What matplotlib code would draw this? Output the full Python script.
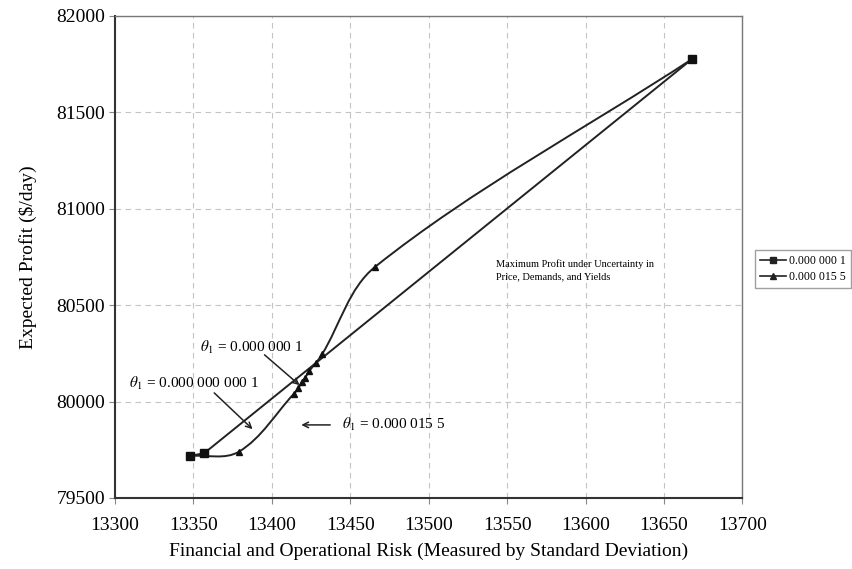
import numpy as np
import matplotlib
matplotlib.use("Agg")
import matplotlib.pyplot as plt
from matplotlib.path import Path
from matplotlib.patches import PathPatch
from matplotlib.lines import Line2D

plt.rcParams['font.family'] = ['Liberation Serif', 'DejaVu Serif']
plt.rcParams['mathtext.fontset'] = 'stix'

# data
sq_risk = [13348, 13357, 13668]
sq_profit = [79718, 79733, 81777]

tri_risk = [13348, 13379, 13414, 13417, 13419, 13421, 13424, 13428, 13432, 13466, 13668]
tri_profit = [79718, 79740, 80040, 80070, 80100, 80120, 80160, 80200, 80245, 80700, 81777]

labels = ['0.000 000 1', '0.000 015 5']
xticks = np.arange(13300, 13701, 50)
yticks = np.arange(79500, 82001, 500)

fig = plt.figure(figsize=(8.53, 5.69), dpi=100)
ax = fig.add_axes([0.1348, 0.1248, 0.7355, 0.8471])
ax.set_xlim(13300, 13700)
ax.set_ylim(79500, 82000)

# pixel scale so the smoothing works in screen space
sx = 627 / 400.0
sy = 482 / 2500.0


def smooth_path(xs, ys):
    pts = np.column_stack([np.array(xs) * sx, np.array(ys) * sy])
    n = len(pts)
    verts = [pts[0]]
    codes = [Path.MOVETO]
    for i in range(n - 1):
        p0 = pts[max(i - 1, 0)]
        p1 = pts[i]
        p2 = pts[i + 1]
        p3 = pts[min(i + 2, n - 1)]
        d = np.hypot(*(p2 - p1))
        t1 = p2 - p0
        t2 = p3 - p1
        t1 = t1 / np.hypot(*t1)
        t2 = t2 / np.hypot(*t2)
        c1 = p1 + t1 * d / 3.0
        c2 = p2 - t2 * d / 3.0
        verts += [c1, c2, p2]
        codes += [Path.CURVE4] * 3
    verts = np.array(verts)
    verts[:, 0] /= sx
    verts[:, 1] /= sy
    return Path(verts, codes)


ax.grid(True, linestyle=(0, (5, 4)), color='#c4c4c4', linewidth=0.8)
ax.set_axisbelow(True)

ax.plot(sq_risk, sq_profit, color='#222222', linewidth=1.4, zorder=3)
ax.add_patch(PathPatch(smooth_path(tri_risk, tri_profit), fill=False,
                       edgecolor='#222222', linewidth=1.4, zorder=3))
ax.plot(tri_risk[1:], tri_profit[1:], linestyle='none', marker='^',
        color='#111111', markersize=5, zorder=4)
ax.plot(sq_risk, sq_profit, linestyle='none', marker='s',
        color='#111111', markersize=5.5, zorder=5)

ax.set_xticks(xticks)
ax.set_yticks(yticks)
ax.tick_params(labelsize=14, length=4, color='#888888')
ax.tick_params(axis='x', pad=10)
ax.tick_params(axis='y', pad=3)
for s in ['left', 'bottom']:
    ax.spines[s].set_color('#333333')
    ax.spines[s].set_linewidth(1.5)
for s in ['top', 'right']:
    ax.spines[s].set_color('#777777')
    ax.spines[s].set_linewidth(1.0)

ax.set_xlabel('Financial and Operational Risk (Measured by Standard Deviation)',
              fontsize=14, labelpad=6)
ax.set_ylabel(r'Expected Profit (\$/day)', fontsize=14, labelpad=14)

arrow = dict(arrowstyle='->', color='#222222', lw=1.1)
ax.text(13354, 80283, r'$\theta_1$ = 0.000 000 1', fontsize=11, va='center')
ax.annotate('', xy=(13419, 80076), xytext=(13394, 80252), arrowprops=arrow)

ax.text(13309, 80096, r'$\theta_1$ = 0.000 000 000 1', fontsize=11, va='center')
ax.annotate('', xy=(13389, 79847), xytext=(13362, 80055), arrowprops=arrow)

ax.annotate('', xy=(13417, 79879), xytext=(13439, 79879), arrowprops=arrow)
ax.text(13445, 79879, r'$\theta_1$ = 0.000 015 5', fontsize=11, va='center')

ax.text(13543, 80740, 'Maximum Profit under Uncertainty in\nPrice, Demands, and Yields',
        fontsize=7.5, va='top', linespacing=1.5)

handles = [Line2D([], [], color='#222222', marker='s', markersize=5, lw=1.2),
           Line2D([], [], color='#222222', marker='^', markersize=5, lw=1.2)]
fig.legend(handles, labels, loc='center left', bbox_to_anchor=(0.878, 0.527),
           fontsize=8.5, frameon=True, fancybox=False, edgecolor='#888888',
           handlelength=2.2, handletextpad=0.3, borderpad=0.4, labelspacing=0.4)

fig.savefig('out.png', dpi=100)
